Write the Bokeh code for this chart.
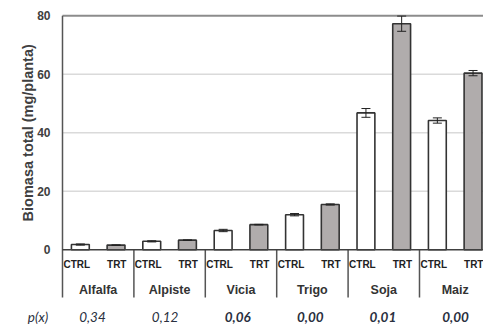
import math
from bokeh.plotting import figure
from bokeh.models import Range1d, ColumnDataSource
from bokeh.core.properties import value
from bokeh.embed import file_html
from bokeh.resources import INLINE

# ---- data ----
groups = ["Alfalfa", "Alpiste", "Vicia", "Trigo", "Soja", "Maiz"]
treatments = ["CTRL", "TRT"]
ctrl = [1.8, 2.9, 6.6, 12.0, 46.8, 44.2]
trt = [1.6, 3.3, 8.6, 15.5, 77.3, 60.4]
ctrl_err = [0.2, 0.2, 0.4, 0.4, 1.5, 0.9]
trt_err = [0.1, 0.1, 0.1, 0.2, 2.6, 0.9]
p_vals = ["0,34", "0,12", "0,06", "0,00", "0,01", "0,00"]
p_bold = [False, False, True, True, True, True]
y_ticks = [0, 20, 40, 60, 80]
grid_ticks = [20, 40, 60]
y_label = "Biomasa total (mg/planta)"

n = len(groups)
FONT = "Liberation Sans"
PFONT = "Lato"

# frame covers the whole canvas; the axis area is drawn with the same scales
p = figure(width=483, height=326, output_backend="svg", toolbar_location=None,
           x_range=Range1d(-0.8683, 5.8964), y_range=Range1d(-26.22, 85.23),
           min_border=0)
p.xaxis.visible = False
p.yaxis.visible = False
p.grid.visible = False
p.outline_line_color = None
p.background_fill_color = "white"
p.border_fill_color = "white"

x_end = n + 0.5
# horizontal gridlines
p.segment(x0=[0] * len(grid_ticks), y0=grid_ticks, x1=[x_end] * len(grid_ticks), y1=grid_ticks,
          line_color="#dadada", line_width=1.5)
# top line at 80
p.segment(x0=[0], y0=[y_ticks[-1]], x1=[x_end], y1=[y_ticks[-1]], line_color="#8c8c8c", line_width=2)

sep_bottom = -16.31
# left axis line
p.segment(x0=[0], y0=[sep_bottom], x1=[0], y1=[y_ticks[-1]], line_color="#555555", line_width=1.5)
# group separators
p.segment(x0=list(range(1, n + 1)), y0=[0] * n, x1=list(range(1, n + 1)), y1=[sep_bottom] * n,
          line_color="#555555", line_width=1.5)

xc = [i + 0.25 for i in range(n)]
xt = [i + 0.75 for i in range(n)]
bw = 0.25
p.vbar(x=xc, top=ctrl, width=bw, bottom=0, fill_color="white", line_color="#333333", line_width=1.6)
p.vbar(x=xt, top=trt, width=bw, bottom=0, fill_color="#b0acac", line_color="#333333", line_width=1.6)

# baseline at 0
p.segment(x0=[0], y0=[0], x1=[x_end], y1=[0], line_color="#404040", line_width=1.5)

# error bars
cap = 0.063
for xs, vals, errs in [(xc, ctrl, ctrl_err), (xt, trt, trt_err)]:
    lo = [v - e for v, e in zip(vals, errs)]
    hi = [v + e for v, e in zip(vals, errs)]
    p.segment(x0=xs, y0=lo, x1=xs, y1=hi, line_color="#222222", line_width=1)
    p.segment(x0=[x - cap for x in xs], y0=lo, x1=[x + cap for x in xs], y1=lo, line_color="#222222", line_width=1)
    p.segment(x0=[x - cap for x in xs], y0=hi, x1=[x + cap for x in xs], y1=hi, line_color="#222222", line_width=1)

# y tick labels
p.text(x=[-0.168] * len(y_ticks), y=y_ticks, text=[str(t) for t in y_ticks], text_font=value(FONT),
       text_font_style="bold", text_font_size="12px", text_color="#404040",
       text_align="right", text_baseline="middle")
# y title
p.text(x=[-0.49], y=[40], text=[y_label], angle=math.pi / 2, text_font=value(FONT),
       text_font_style="bold", text_font_size="14.5px", text_color="#404040",
       text_align="center", text_baseline="middle")

# treatment labels
tx = []
tl = []
for i in range(n):
    tx += [i + 0.2, i + 0.76]
    tl += treatments
p.text(x=tx, y=[-5.03] * len(tx), text=tl, text_font=value(FONT), text_font_style="bold",
       text_font_size="10px", text_color="#222222", text_align="center", text_baseline="middle")
# group labels
p.text(x=[i + 0.5 for i in range(n)], y=[-13.91] * n, text=groups, text_font=value(FONT),
       text_font_style="bold", text_font_size="12.5px", text_color="#333333",
       text_align="center", text_baseline="middle")

# p-values row
py = -22.9
px = [0.42 + 1.017 * i for i in range(n)]
for bold in (False, True):
    sel = [k for k in range(n) if p_bold[k] == bold]
    src = ColumnDataSource(dict(x=[px[k] for k in sel], y=[py] * len(sel), t=[p_vals[k] for k in sel]))
    p.text(x="x", y="y", text="t", source=src, text_font=value(PFONT),
           text_font_style="bold italic" if bold else "italic", text_font_size="13.5px",
           text_color="#2a3040", text_align="center", text_baseline="middle")
p.text(x=[-0.343], y=[py], text=["p(x)"], text_font=value(PFONT), text_font_style="italic",
       text_font_size="13.5px", text_color="#2a3040", text_align="center", text_baseline="middle")

open("out.html", "w").write(file_html(p, INLINE))
